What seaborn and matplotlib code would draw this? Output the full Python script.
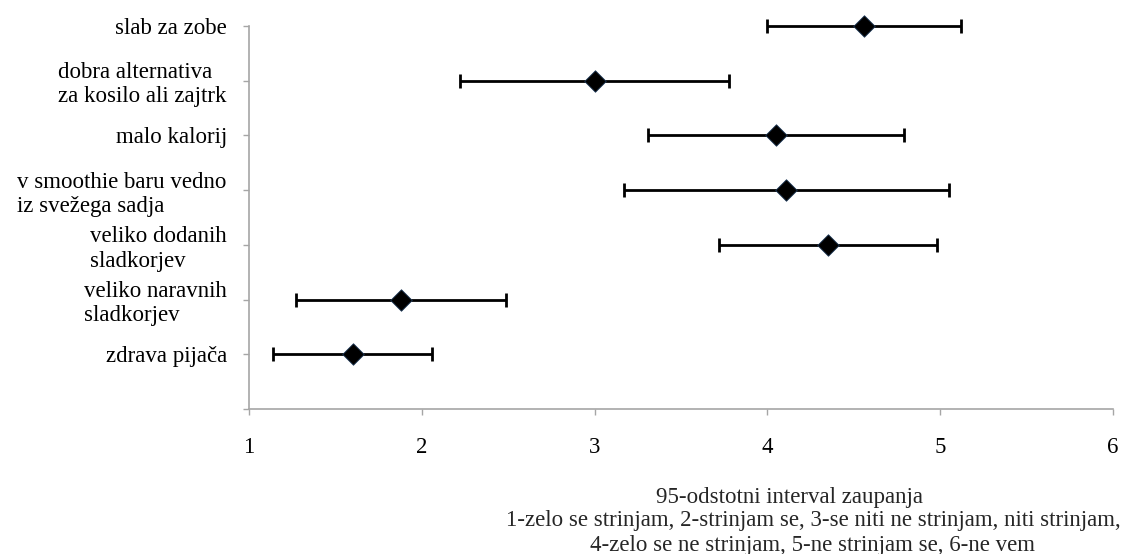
import matplotlib
matplotlib.use("Agg")
import matplotlib.pyplot as plt
import seaborn as sns
import pandas as pd

# Statements rated on a 1-6 scale: mean and 95 % confidence half-width
statements = [
    "slab za zobe",
    "dobra alternativa\nza kosilo ali zajtrk",
    "malo kalorij",
    "v smoothie baru vedno\niz svežega sadja",
    "veliko dodanih\nsladkorjev",
    "veliko naravnih\nsladkorjev",
    "zdrava pijača",
]
means = [4.56, 3.00, 4.05, 4.11, 4.35, 1.88, 1.60]
half_ci = [0.56, 0.78, 0.74, 0.94, 0.63, 0.61, 0.46]
x_ticks = [1, 2, 3, 4, 5, 6]

df = pd.DataFrame({"statement": statements, "mean": means, "ci": half_ci})

sns.set_theme(style="white")
plt.rcParams["font.family"] = ["Liberation Serif", "DejaVu Serif"]

FS = 16.5

fig = plt.figure(figsize=(11.23, 5.54), dpi=100)
ax = fig.add_axes([249 / 1123, 1 - 409 / 554, (1113 - 249) / 1123, (409 - 26) / 554])

pos = list(range(len(statements)))
bars = ax.errorbar(df["mean"], pos, xerr=df["ci"], fmt="none", ecolor="black",
                   elinewidth=2.0, capsize=5, capthick=2.0, zorder=2)
for artist in bars.lines[1] + bars.lines[2]:
    artist.set_clip_on(False)
sns.scatterplot(x=df["mean"], y=pos, marker="D", s=120, color="black",
                edgecolor="#1f3a5a", linewidth=0.6, ax=ax, zorder=3,
                legend=False, clip_on=False)

ax.set_xlim(1, 6)
ax.set_ylim(len(statements), 0)
ax.set_xticks(x_ticks)
ax.set_xticklabels([str(t) for t in x_ticks])
ax.set_yticks(list(range(len(statements) + 1)))
ax.set_yticklabels(statements + [""], ha="right", multialignment="left")

for side in ("top", "right"):
    ax.spines[side].set_visible(False)
for side in ("left", "bottom"):
    ax.spines[side].set_color("#a6a6a6")
    ax.spines[side].set_linewidth(1.2)

ax.tick_params(axis="x", bottom=True, direction="out", length=4, width=1,
               color="#a6a6a6", pad=16, labelsize=FS, labelcolor="black")
ax.tick_params(axis="y", left=True, direction="out", length=4, width=1,
               color="#a6a6a6", pad=12, labelsize=FS, labelcolor="black")
ax.set_xlabel("")
ax.set_ylabel("")
ax.grid(False)

fig.text(789 / 1123, 1 - 497 / 554, "95-odstotni interval zaupanja",
         ha="center", va="center", fontsize=FS)
fig.text(813 / 1123, 1 - 533 / 554,
         "1-zelo se strinjam, 2-strinjam se, 3-se niti ne strinjam, niti strinjam,\n"
         "4-zelo se ne strinjam, 5-ne strinjam se, 6-ne vem",
         ha="center", va="center", multialignment="center", fontsize=FS)

fig.savefig("out.png", dpi=100, facecolor="white")
